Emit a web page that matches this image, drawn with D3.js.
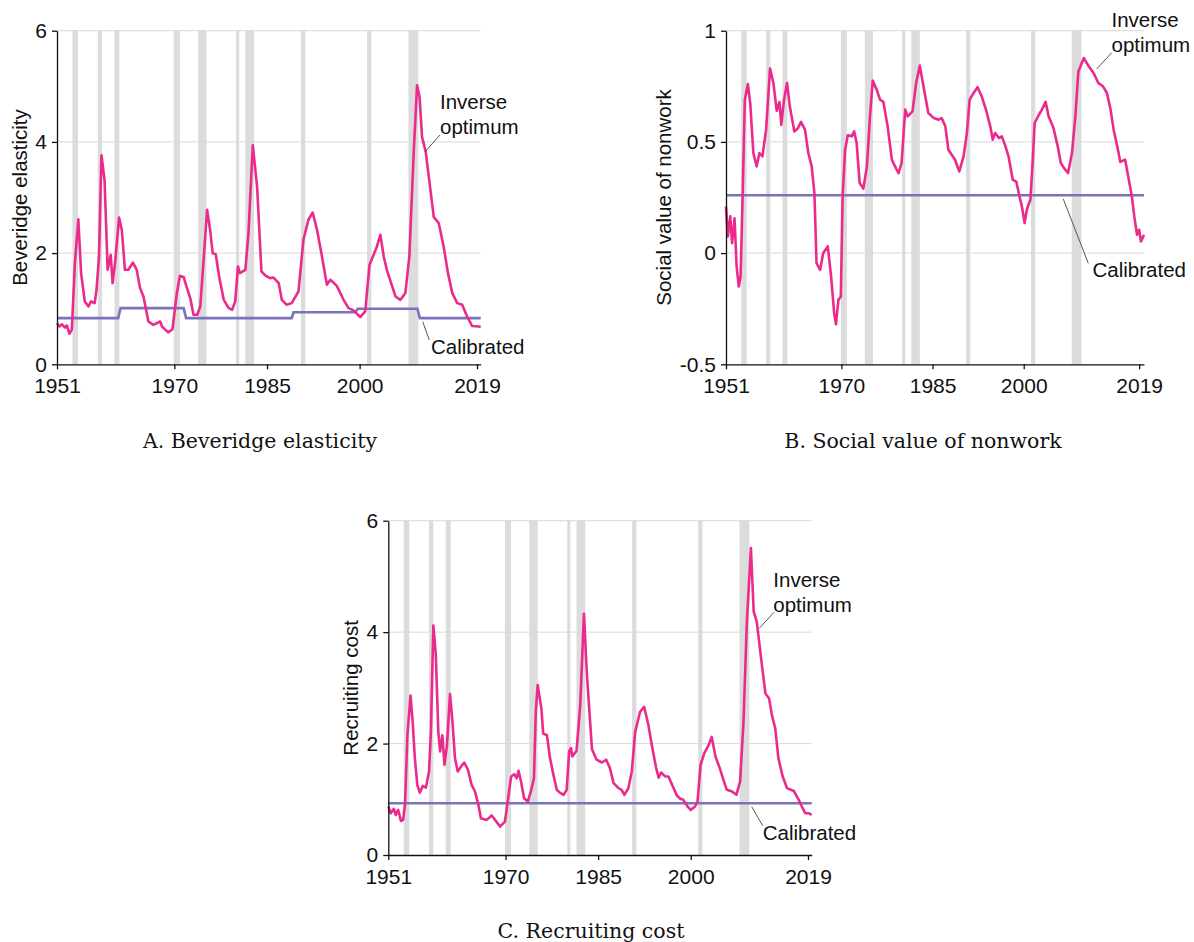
<!DOCTYPE html>
<html>
<head>
<meta charset="utf-8">
<script src="https://cdn.jsdelivr.net/npm/d3@7"></script>
<style>
  body { margin: 0; background: #fff; }
  svg { display: block; }
</style>
</head>
<body>
<div id="chart"></div>
<script>
// recession periods (NBER, as fractional years)
var recessions = [
  [1953.5, 1954.4], [1957.6, 1958.3], [1960.3, 1961.1], [1969.9, 1970.9],
  [1973.85, 1975.2], [1980.0, 1980.5], [1981.5, 1982.9], [1990.5, 1991.2],
  [2001.2, 2001.9], [2007.9, 2009.5]
];

var yearTicks = [1951, 1970, 1985, 2000, 2019];
var beveridgeTicks = [0, 2, 4, 6];
var nonworkTicks = [-0.5, 0, 0.5, 1];
var recruitingTicks = [0, 2, 4, 6];

// A. Beveridge elasticity
var beveridgeInverse = [
  [1951.0,0.74],[1951.4,0.68],[1951.8,0.72],[1952.3,0.66],[1952.6,0.70],[1953.0,0.55],[1953.4,0.62],
  [1953.9,1.82],[1954.45,2.61],[1954.9,1.64],[1955.5,1.13],[1956.1,1.04],[1956.5,1.13],[1957.1,1.10],
  [1957.4,1.34],[1957.8,1.94],[1958.2,3.76],[1958.7,3.31],[1959.2,1.70],[1959.7,1.97],[1960.0,1.46],
  [1960.4,1.82],[1961.05,2.64],[1961.5,2.41],[1962.0,1.70],[1962.56,1.70],[1963.3,1.83],[1963.9,1.70],
  [1964.45,1.37],[1965.0,1.22],[1965.8,0.77],[1966.6,0.71],[1967.7,0.77],[1968.0,0.68],[1969.0,0.575],
  [1969.7,0.63],[1970.4,1.28],[1970.9,1.59],[1971.5,1.57],[1972.0,1.39],[1972.6,1.18],[1973.1,0.89],
  [1973.7,0.89],[1974.2,1.04],[1974.7,1.82],[1975.3,2.78],[1975.8,2.41],[1976.2,2.0],[1976.7,1.98],
  [1977.25,1.58],[1978.0,1.16],[1978.8,1.01],[1979.35,0.98],[1979.85,1.13],[1980.3,1.76],[1980.6,1.64],
  [1981.5,1.70],[1982.0,2.36],[1982.7,3.94],[1983.4,3.19],[1984.1,1.67],[1984.7,1.60],[1985.5,1.55],
  [1986.05,1.56],[1986.9,1.46],[1987.4,1.16],[1988.2,1.07],[1989.0,1.10],[1990.1,1.31],[1990.9,2.24],
  [1991.7,2.60],[1992.4,2.73],[1993.1,2.42],[1993.9,1.94],[1994.7,1.43],[1995.25,1.52],[1996.3,1.41],
  [1997.4,1.16],[1998.2,1.01],[1999.0,0.97],[2000.1,0.85],[2000.9,0.95],[2001.6,1.79],[2002.3,1.98],
  [2002.8,2.12],[2003.35,2.33],[2003.9,1.94],[2004.4,1.70],[2005.1,1.46],[2005.8,1.22],[2006.6,1.16],
  [2007.4,1.28],[2008.05,1.94],[2008.75,3.80],[2009.3,5.02],[2009.7,4.81],[2010.1,4.09],[2010.7,3.82],
  [2011.2,3.37],[2012.0,2.65],[2012.8,2.54],[2013.6,2.12],[2014.3,1.64],[2015.0,1.28],[2015.8,1.10],
  [2016.6,1.07],[2017.4,0.86],[2018.2,0.69],[2019.3,0.68],[2019.6,0.67]
];
var beveridgeCalibrated = [
  [1951,0.83],[1960.9,0.83],[1961.3,1.01],[1971.5,1.01],[1971.9,0.83],[1989.0,0.83],[1989.3,0.935],
  [1999.3,0.935],[1999.7,1.0],[2009.35,1.0],[2009.75,0.83],[2019.6,0.83]
];

// B. Social value of nonwork
var nonworkInverse = [
  [1951.0,0.21],[1951.3,0.075],[1951.7,0.165],[1952.0,0.045],[1952.4,0.157],[1952.75,-0.06],[1953.1,-0.15],
  [1953.4,-0.105],[1953.75,0.27],[1954.1,0.69],[1954.6,0.76],[1955.0,0.67],[1955.5,0.45],[1956.05,0.39],
  [1956.5,0.45],[1957.0,0.435],[1957.6,0.555],[1958.25,0.83],[1958.8,0.765],[1959.35,0.64],[1959.8,0.68],
  [1960.1,0.577],[1960.55,0.69],[1961.05,0.765],[1961.5,0.66],[1962.25,0.547],[1962.8,0.56],[1963.35,0.59],
  [1964.0,0.555],[1964.55,0.45],[1965.1,0.39],[1965.55,0.27],[1965.9,-0.045],[1966.5,-0.075],[1967.0,0.0],
  [1967.75,0.03],[1968.3,-0.105],[1968.8,-0.27],[1969.1,-0.32],[1969.5,-0.21],[1969.9,-0.195],[1970.2,0.255],
  [1970.6,0.465],[1971.05,0.53],[1971.7,0.525],[1972.1,0.547],[1972.5,0.495],[1973.0,0.315],[1973.6,0.29],
  [1974.2,0.39],[1974.7,0.615],[1975.15,0.776],[1975.8,0.735],[1976.35,0.69],[1976.9,0.68],[1977.6,0.57],
  [1978.3,0.42],[1979.0,0.38],[1979.4,0.36],[1979.9,0.405],[1980.5,0.645],[1980.9,0.615],[1981.7,0.637],
  [1982.3,0.765],[1982.9,0.843],[1983.5,0.75],[1984.3,0.63],[1985.2,0.607],[1986.0,0.60],[1986.5,0.607],
  [1987.1,0.57],[1987.6,0.465],[1988.2,0.44],[1988.7,0.42],[1989.4,0.367],[1990.1,0.435],[1990.65,0.54],
  [1991.1,0.69],[1991.75,0.72],[1992.4,0.746],[1993.1,0.704],[1993.8,0.644],[1994.5,0.57],[1994.9,0.51],
  [1995.3,0.54],[1995.9,0.517],[1996.4,0.525],[1997.0,0.48],[1997.5,0.435],[1998.2,0.33],[1998.8,0.32],
  [1999.3,0.255],[1999.7,0.21],[2000.15,0.135],[2000.5,0.195],[2001.1,0.24],[2001.5,0.42],[2001.8,0.585],
  [2002.5,0.622],[2003.0,0.645],[2003.6,0.68],[2004.1,0.615],[2004.9,0.562],[2005.6,0.48],[2006.1,0.405],
  [2006.7,0.38],[2007.3,0.36],[2007.95,0.45],[2008.5,0.615],[2009.0,0.817],[2009.9,0.877],[2010.7,0.84],
  [2011.5,0.81],[2012.3,0.764],[2013.05,0.75],[2013.7,0.72],[2014.3,0.645],[2014.8,0.555],[2015.4,0.48],
  [2015.9,0.41],[2016.7,0.42],[2017.3,0.33],[2017.8,0.255],[2018.2,0.165],[2018.65,0.082],[2019.0,0.105],
  [2019.3,0.052],[2019.8,0.082]
];
var nonworkCalibrated = [[1951,0.26],[2019.8,0.26]];

// C. Recruiting cost
var recruitingInverse = [
  [1951.0,0.87],[1951.4,0.75],[1951.9,0.83],[1952.2,0.72],[1952.6,0.81],[1953.05,0.61],[1953.4,0.63],
  [1953.7,0.9],[1954.1,2.15],[1954.6,2.86],[1954.95,2.39],[1955.3,1.74],[1955.7,1.26],[1956.1,1.12],
  [1956.6,1.24],[1957.1,1.21],[1957.6,1.50],[1957.9,2.21],[1958.3,4.12],[1958.7,3.59],[1959.1,2.21],
  [1959.4,1.86],[1959.75,2.15],[1960.1,1.62],[1960.5,1.97],[1961.0,2.89],[1961.4,2.39],[1961.8,1.74],
  [1962.25,1.50],[1962.8,1.59],[1963.3,1.66],[1963.9,1.53],[1964.5,1.26],[1965.05,1.14],[1965.6,0.90],
  [1966.0,0.66],[1966.95,0.63],[1967.75,0.71],[1968.3,0.63],[1969.1,0.51],[1969.9,0.60],[1970.35,0.96],
  [1970.9,1.41],[1971.4,1.45],[1971.8,1.38],[1972.1,1.51],[1972.5,1.32],[1973.0,1.02],[1973.6,0.96],
  [1974.1,1.14],[1974.6,1.38],[1974.9,2.57],[1975.2,3.05],[1975.8,2.63],[1976.1,2.18],[1976.7,2.15],
  [1977.2,1.74],[1977.75,1.44],[1978.3,1.17],[1978.8,1.12],[1979.4,1.08],[1979.9,1.17],[1980.3,1.86],
  [1980.6,1.92],[1980.8,1.77],[1981.5,1.87],[1982.1,2.69],[1982.7,4.33],[1983.2,3.2],[1984.0,1.9],
  [1984.75,1.71],[1985.6,1.66],[1986.3,1.71],[1986.9,1.56],[1987.5,1.29],[1988.3,1.20],[1988.8,1.17],
  [1989.25,1.08],[1989.9,1.20],[1990.45,1.50],[1991.0,2.21],[1991.8,2.57],[1992.45,2.66],[1993.15,2.33],
  [1993.7,1.97],[1994.4,1.56],[1994.8,1.39],[1995.2,1.48],[1995.85,1.41],[1996.4,1.41],[1997.1,1.23],
  [1997.75,1.07],[1998.3,1.01],[1998.8,0.99],[1999.5,0.87],[2000.0,0.81],[2000.7,0.87],[2001.1,0.96],
  [2001.6,1.62],[2002.2,1.83],[2002.9,1.97],[2003.4,2.12],[2004.0,1.77],[2004.7,1.56],[2005.3,1.35],
  [2005.85,1.17],[2006.7,1.14],[2007.4,1.08],[2008.0,1.32],[2008.55,2.39],[2009.1,4.19],[2009.75,5.51],
  [2010.2,4.37],[2010.7,4.19],[2011.4,3.53],[2012.1,2.90],[2012.7,2.81],[2013.15,2.51],[2013.7,2.27],
  [2014.2,1.74],[2014.9,1.41],[2015.6,1.20],[2016.7,1.15],[2017.5,0.99],[2018.0,0.87],[2018.55,0.75],
  [2019.1,0.75],[2019.6,0.72]
];
var recruitingCalibrated = [[1951,0.93],[2019.6,0.93]];

var pink = "#ec2a8c";
var purple = "#7a72bf";

var svg = d3.select("#chart").append("svg")
  .attr("width", 1194)
  .attr("height", 942)
  .style("font-family", "'Liberation Sans', Arial, sans-serif");

function panel(opt) {
  var g = svg.append("g");

  var x = d3.scaleLinear().domain([1951, opt.xEnd]).range([opt.left, opt.right]);
  var y = d3.scaleLinear().domain([opt.ticks[0], opt.ticks[opt.ticks.length - 1]])
    .range([opt.bottom, opt.top]);

  // recession shading
  g.selectAll("rect.rec")
    .data(recessions)
    .enter()
    .append("rect")
    .attr("x", function(d) { return x(d[0]); })
    .attr("width", function(d) { return x(d[1]) - x(d[0]); })
    .attr("y", opt.top)
    .attr("height", opt.bottom - opt.top)
    .attr("fill", "#dcdcdc");

  // horizontal grid
  g.selectAll("line.grid")
    .data(opt.ticks.slice(1))
    .enter()
    .append("line")
    .attr("x1", opt.left)
    .attr("x2", opt.right)
    .attr("y1", function(d) { return y(d); })
    .attr("y2", function(d) { return y(d); })
    .attr("stroke", "#d9d9d9")
    .attr("stroke-width", 1);

  var line = d3.line()
    .x(function(d) { return x(d[0]); })
    .y(function(d) { return y(d[1]); });

  g.append("path")
    .datum(opt.calibrated)
    .attr("d", line)
    .attr("fill", "none")
    .attr("stroke", purple)
    .attr("stroke-width", 2.6);

  g.append("path")
    .datum(opt.inverse)
    .attr("d", line)
    .attr("fill", "none")
    .attr("stroke", pink)
    .attr("stroke-width", 2.6)
    .attr("stroke-linejoin", "round");

  // axes
  var yAxis = d3.axisLeft(y)
    .tickValues(opt.ticks)
    .tickSize(5)
    .tickSizeOuter(0)
    .tickPadding(5)
    .tickFormat(function(d) { return String(d); });
  var ya = g.append("g")
    .attr("transform", "translate(" + opt.left + ",0)")
    .call(yAxis);

  var xAxis = d3.axisBottom(x)
    .tickValues(yearTicks)
    .tickSize(5)
    .tickSizeOuter(0)
    .tickPadding(9)
    .tickFormat(d3.format("d"));
  var xa = g.append("g")
    .attr("transform", "translate(0," + opt.bottom + ")")
    .call(xAxis);

  [ya, xa].forEach(function(a) {
    a.attr("font-size", null).attr("font-family", null);
    a.selectAll("text").attr("font-size", "21px").attr("fill", "#111");
    a.selectAll("line").attr("stroke", "#111").attr("stroke-width", 1.3);
    a.select(".domain").attr("stroke", "#111").attr("stroke-width", 1.3);
  });

  // y label
  g.append("text")
    .attr("transform", "translate(" + opt.yLabelX + "," + ((opt.top + opt.bottom) / 2) + ") rotate(-90)")
    .attr("text-anchor", "middle")
    .attr("font-size", "20.5px")
    .attr("fill", "#111")
    .text(opt.yLabel);

  // series labels with leader lines
  var inv = g.append("text")
    .attr("font-size", "20.5px")
    .attr("fill", "#111");
  inv.append("tspan").attr("x", opt.invLabel[0]).attr("y", opt.invLabel[1]).text("Inverse");
  inv.append("tspan").attr("x", opt.invLabel[0]).attr("y", opt.invLabel[1] + 25).text("optimum");

  g.append("text")
    .attr("x", opt.calLabel[0])
    .attr("y", opt.calLabel[1])
    .attr("font-size", "20.5px")
    .attr("fill", "#111")
    .text("Calibrated");

  g.selectAll("line.leader")
    .data([opt.invLeader, opt.calLeader])
    .enter()
    .append("line")
    .attr("x1", function(d) { return d[0]; })
    .attr("y1", function(d) { return d[1]; })
    .attr("x2", function(d) { return d[2]; })
    .attr("y2", function(d) { return d[3]; })
    .attr("stroke", "#555")
    .attr("stroke-width", 1);

  // caption
  g.append("text")
    .attr("x", opt.caption[0])
    .attr("y", opt.caption[1])
    .attr("text-anchor", "middle")
    .attr("font-family", "'DejaVu Serif', serif")
    .attr("font-size", "20.5px")
    .attr("fill", "#111")
    .text(opt.caption[2]);
}

panel({
  left: 57, right: 480.7, top: 30.7, bottom: 364.3, xEnd: 2019.6,
  ticks: beveridgeTicks,
  inverse: beveridgeInverse, calibrated: beveridgeCalibrated,
  yLabel: "Beveridge elasticity", yLabelX: 27,
  invLabel: [440, 108.5], invLeader: [425, 151.7, 440, 135],
  calLabel: [431, 353.5], calLeader: [422.7, 321.7, 429.3, 340],
  caption: [260, 448, "A. Beveridge elasticity"]
});

panel({
  left: 726, right: 1144, top: 30.7, bottom: 364.3, xEnd: 2019.8,
  ticks: nonworkTicks,
  inverse: nonworkInverse, calibrated: nonworkCalibrated,
  yLabel: "Social value of nonwork", yLabelX: 671,
  invLabel: [1111.5, 26.5], invLeader: [1096.7, 69, 1111.7, 52.7],
  calLabel: [1092.5, 277], calLeader: [1063.3, 199, 1088.3, 263.3],
  caption: [923, 448, "B. Social value of nonwork"]
});

panel({
  left: 388.3, right: 811.7, top: 520.7, bottom: 855, xEnd: 2019.6,
  ticks: recruitingTicks,
  inverse: recruitingInverse, calibrated: recruitingCalibrated,
  yLabel: "Recruiting cost", yLabelX: 358,
  invLabel: [773.3, 587], invLeader: [759.3, 628.3, 774, 612.3],
  calLabel: [762.7, 840], calLeader: [751.7, 806.7, 762.7, 825.7],
  caption: [591, 938, "C. Recruiting cost"]
});
</script>
</body>
</html>
